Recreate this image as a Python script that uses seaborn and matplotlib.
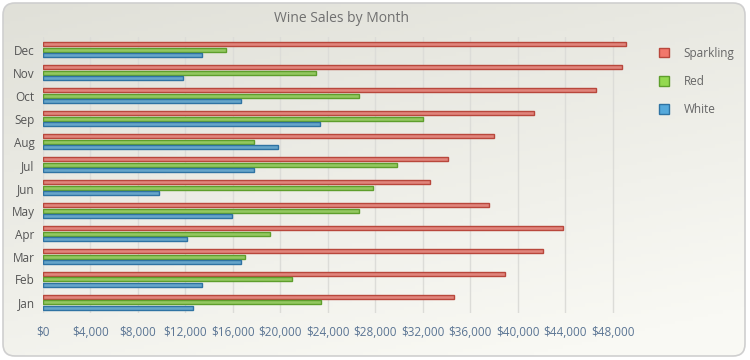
import matplotlib
matplotlib.use("Agg")
import matplotlib.pyplot as plt
import seaborn as sns
import numpy as np
import pandas as pd
from matplotlib.patches import FancyBboxPatch, Patch
from matplotlib.ticker import FuncFormatter

months = ['Jan', 'Feb', 'Mar', 'Apr', 'May', 'Jun', 'Jul', 'Aug', 'Sep', 'Oct', 'Nov', 'Dec']
sparkling = [34600, 38900, 42100, 43800, 37600, 32600, 34100, 38000, 41400, 46600, 48800, 49100]
red = [23400, 21000, 17000, 19100, 26600, 27800, 29800, 17800, 32000, 26600, 23000, 15400]
white = [12600, 13400, 16700, 12100, 15900, 9800, 17800, 19800, 23300, 16700, 11800, 13400]
series = ['Sparkling', 'Red', 'White']

fills = ['#F2776B', '#93D94F', '#55A9DB']
edges = ['#B8473C', '#5E9E2C', '#2F73A3']

df = pd.DataFrame({'Month': months, 'Sparkling': sparkling, 'Red': red, 'White': white})
df = df.melt(id_vars='Month', var_name='Series', value_name='Sales')

sns.set_style("white")
plt.rcParams['font.family'] = ['Open Sans', 'DejaVu Sans']

fig = plt.figure(figsize=(7.5, 3.6), dpi=100)
fig.patch.set_facecolor('white')

# card background with soft gradient
bg = fig.add_axes([0, 0, 1, 1], zorder=-5)
bg.set_xlim(0, 750)
bg.set_ylim(360, 0)
bg.axis('off')
gx, gy = np.meshgrid(np.linspace(0, 1, 200), np.linspace(0, 1, 100))
t = np.clip(0.35 * gx + 0.75 * gy, 0, 1)
c0 = np.array([224, 224, 216]) / 255
c1 = np.array([249, 249, 244]) / 255
grad = c0[None, None, :] * (1 - t[..., None]) + c1[None, None, :] * t[..., None]
card = FancyBboxPatch((3, 3), 742, 353, boxstyle="round,pad=0,rounding_size=12",
                      facecolor='none', edgecolor='#CFCFCF', linewidth=1.2)
bg.add_patch(card)
im = bg.imshow(grad, extent=(3, 745, 356, 3), aspect='auto', zorder=0)
im.set_clip_path(card)

ax = fig.add_axes([43 / 750, 1 - 313 / 360, (640 - 43) / 750, (313 - 37) / 360])
sns.barplot(data=df, y='Month', x='Sales', hue='Series', orient='h',
            order=months[::-1], hue_order=series, palette=fills, width=0.72, gap=0.275,
            linewidth=1, legend=False, ax=ax)
for cont, ec in zip(ax.containers, edges):
    for bar in cont:
        bar.set_edgecolor(ec)
        bar.set_zorder(3)

ax.set_facecolor('none')
ax.set_xlim(0, 50300)
ax.set_ylim(11.46, -0.56)
ax.set_xticks(np.arange(0, 48001, 4000))
ax.xaxis.set_major_formatter(FuncFormatter(lambda v, p: '${:,.0f}'.format(v)))
ax.grid(axis='x', color='#DCDCD8', linewidth=1, zorder=0)
ax.set_axisbelow(True)
for s in ax.spines.values():
    s.set_visible(False)
ax.tick_params(axis='x', length=0, pad=9, labelsize=8.5, labelcolor='#5B7594')
ax.tick_params(axis='y', length=0, pad=6, labelsize=8.5, labelcolor='#555555')
ax.set_xlabel('')
ax.set_ylabel('')

fig.text(0.455, 1 - 19 / 360, 'Wine Sales by Month', ha='center', va='center',
         fontsize=10, color='#707070')

handles = [Patch(facecolor=f, edgecolor=e, linewidth=1) for f, e in zip(fills, edges)]
fig.legend(handles, series, loc='upper left', bbox_to_anchor=(648 / 750, 1 - 36 / 360),
           frameon=False, fontsize=8.5, labelcolor='#666666', handlelength=0.9,
           handleheight=0.9, handletextpad=1.2, labelspacing=1.3)

fig.savefig('out.png', dpi=100)
